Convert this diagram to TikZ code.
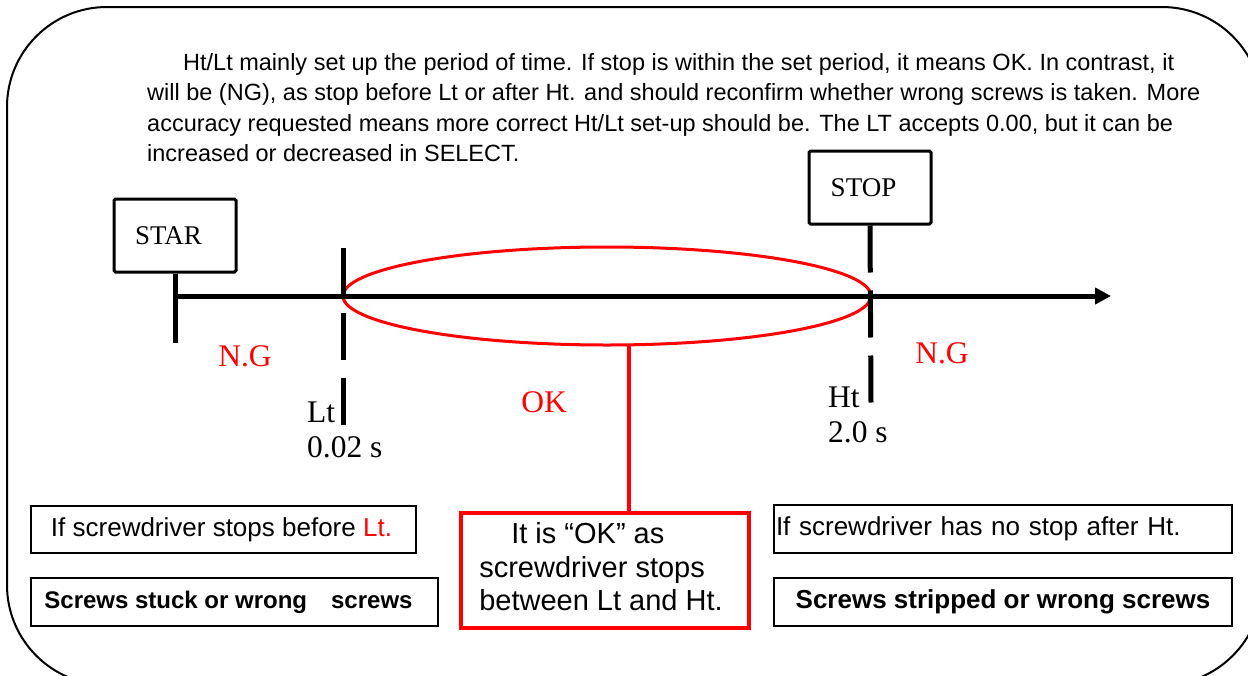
\documentclass[tikz,border=0pt]{standalone}
\usepackage{fontspec}
\setmainfont{Liberation Serif}
\newfontfamily\arialf{Liberation Sans}
\usetikzlibrary{arrows.meta,shapes.geometric}
\begin{document}
\begin{tikzpicture}[x=1pt,y=-1pt,
  sign/.style={draw, line width=3pt, rounded corners=1.5pt, minimum width=122pt, minimum height=73pt, inner sep=0pt, font=\fontsize{27}{30}\selectfont},
  tickline/.style={line width=5pt},
  dashtick/.style={line width=5pt, dash pattern=on 47pt off 18pt},
  lbl/.style={inner sep=0pt, font=\fontsize{31.5}{35}\selectfont},
  redlbl/.style={lbl, text=red},
  infobox/.style={draw, line width=1.6pt, inner sep=0pt, font=\arialf\fontsize{26}{30}\selectfont},
]
\useasboundingbox (0,0) rectangle (1248,675);
\begin{scope}
\clip (0,0) rectangle (1248,675);
\draw[line width=2pt, rounded corners=100pt] (7,7) rectangle (1262,685);
\end{scope}

% paragraph
\node[anchor=north west, inner sep=0pt, align=left, font=\arialf\fontsize{23.5}{30.5}\selectfont] (para) at (147,53)
{\hspace*{36pt}Ht/Lt mainly set up the period of time. If stop is within the set period, it means OK. In contrast, it\\
will be (NG), as stop before Lt or after Ht. and should reconfirm whether wrong screws is taken. More\\
accuracy requested means more correct Ht/Lt set-up should be. The LT accepts 0.00, but it can be\\
increased or decreased in SELECT.};

% signs
\node[sign] (star) at (175,235.5) {STAR\hspace*{13pt}};
\node[sign] (stop) at (870,187.5) {STOP\hspace*{13pt}};

% coordinates
\coordinate (t0) at (175,296);
\coordinate (t1) at (1111,296);
\coordinate (starend) at (175,343);
\coordinate (lttop) at (343,248);
\coordinate (ltend) at (343,427);
\coordinate (htend) at (871,403);

% ellipse
\node[ellipse, draw=red, line width=3pt, minimum width=528pt, minimum height=98pt, inner sep=0pt] (okell) at (607,296) {};

% timeline
\draw[tickline] (star.south) -- (starend);
\draw[tickline, -{Triangle[length=16pt,width=16pt]}] (t0) -- (t1);
\draw[dashtick] (lttop) -- (ltend);
\draw[dashtick] (stop.south) -- (htend);

% labels
\node[redlbl] (ng1) at (245,356) {N.G};
\node[redlbl] (ng2) at (942,353) {N.G};
\node[redlbl] (ok) at (544,402) {OK};
\node[lbl, anchor=base west] (lt) at (307,422) {Lt};
\node[lbl, anchor=base west] (ltv) at (307,457) {0.02 s};
\node[lbl, anchor=base west] (ht) at (828,407) {Ht};
\node[lbl, anchor=base west] (htv) at (828,442) {2.0 s};

% boxes
\node[infobox, minimum width=385pt, minimum height=47pt] (lb1) at (223.5,529.5) {If screwdriver stops before \textcolor{red}{Lt.}\hspace*{4pt}};
\node[infobox, minimum width=407pt, minimum height=48pt, font=\arialf\bfseries\fontsize{24}{28}\selectfont] (lb2) at (234.5,602) {Screws stuck or wrong\hspace*{24pt}screws\hspace*{12pt}};
\node[infobox, minimum width=458pt, minimum height=48pt, text width=454pt, inner xsep=2pt, align=left] (rb1) at (1003,529) {If screwdriver has no stop after Ht.};
\node[infobox, minimum width=458pt, minimum height=48pt, font=\arialf\bfseries\fontsize{26}{30}\selectfont] (rb2) at (1003,602) {Screws stripped or wrong screws};

\node[draw=red, line width=4pt, minimum width=288pt, minimum height=115pt, inner sep=0pt, font=\arialf\fontsize{29}{33.5}\selectfont] (okbox) at (605,570.5)
{\begin{tabular}{@{}l@{}}\hspace*{32pt}It is “OK” as\\screwdriver stops\\between Lt and Ht.\end{tabular}\hspace*{8pt}};

\coordinate (c1) at (629,345);
\draw[red, line width=4pt] (c1) -- (c1 |- okbox.north);
\end{tikzpicture}
\end{document}
